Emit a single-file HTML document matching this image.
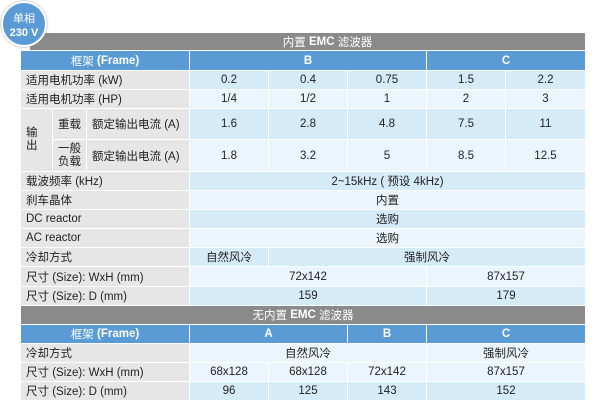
<!DOCTYPE html>
<html><head><meta charset="utf-8"><style>
body{margin:0;width:600px;height:406px;background:#fff;position:relative;overflow:hidden;font-family:"Liberation Sans","Noto Sans CJK SC",sans-serif;font-size:11.5px;color:#222}
.c{position:absolute;display:flex;align-items:center;justify-content:center;box-sizing:border-box;white-space:nowrap}
.l{justify-content:flex-start;padding-left:5px;background:#e6e6e6}
.g{background:#8a8a8a;color:#fff;font-size:11.5px}
.h{background:#5b9bd5;color:#fff;font-weight:bold}
.d{background:#d6ebf8}.e{background:#eaf5fd}
</style></head><body>
<div class="c g" style="left:30px;top:33px;width:555px;height:17px;padding-left:40px">内置 <b>&nbsp;EMC&nbsp;</b> 滤波器</div>
<div style="position:absolute;left:1px;top:1px;width:46px;height:46px;border-radius:50%;background:#5b9bd5;border:2px solid #fff;box-shadow:0 0 2px #999;color:#fff;text-align:center;font-size:11px;line-height:14px;padding-top:9px;box-sizing:border-box;font-weight:bold"><span style="font-weight:normal">单相</span><br>230 V</div>
<div id="t"></div>
<script>
var H=[];function c(x1,x2,y1,y2,cls,t){H.push('<div class="c '+cls+'" style="left:'+x1+'px;top:'+y1+'px;width:'+(x2-x1-1)+'px;height:'+(y2-y1-1)+'px">'+t+'</div>')}
var X=[190,269,348,427,506,586];
var F='<span style="font-weight:normal">框架</span>&nbsp;(Frame)';
c(21,190,51,71,'h',F);c(190,427,51,71,'h','B');c(427,586,51,71,'h','C');
function row(y1,y2,lab,vals,cls){c(21,190,y1,y2,'l',lab);for(var i=0;i<5;i++)c(X[i],X[i+1],y1,y2,cls,vals[i]);}
row(71,90,'适用电机功率 (kW)',['0.2','0.4','0.75','1.5','2.2'],'d');
row(90,109,'适用电机功率 (HP)',['1/4','1/2','1','2','3'],'e');
c(21,53,109,172,'l','<span style="line-height:13px">输<br>出</span>');
c(53,87,109,140,'l','重载');c(87,190,109,140,'l','额定输出电流 (A)');
c(53,87,140,172,'l','<span style="line-height:13px">一般<br>负载</span>');c(87,190,140,172,'l','额定输出电流 (A)');
for(var i=0;i<5;i++){c(X[i],X[i+1],109,140,'d',['1.6','2.8','4.8','7.5','11'][i]);c(X[i],X[i+1],140,172,'e',['1.8','3.2','5','8.5','12.5'][i]);}
c(21,190,172,191,'l','载波频率 (kHz)');c(190,586,172,191,'d','2~15kHz ( 预设 4kHz)');
c(21,190,191,210,'l','刹车晶体');c(190,586,191,210,'e','内置');
c(21,190,210,229,'l','DC reactor');c(190,586,210,229,'d','选购');
c(21,190,229,248,'l','AC reactor');c(190,586,229,248,'e','选购');
c(21,190,248,267,'l','冷却方式');c(190,269,248,267,'d','自然风冷');c(269,586,248,267,'d','强制风冷');
c(21,190,267,287,'l','尺寸 (Size): WxH (mm)');c(190,427,267,287,'e','72x142');c(427,586,267,287,'e','87x157');
c(21,190,287,306,'l','尺寸 (Size): D (mm)');c(190,427,287,306,'d','159');c(427,586,287,306,'d','179');
c(21,586,306,325,'g','无内置 <b>&nbsp;EMC&nbsp;</b> 滤波器');
c(21,190,325,344,'h',F);c(190,348,325,344,'h','A');c(348,427,325,344,'h','B');c(427,586,325,344,'h','C');
c(21,190,344,363,'l','冷却方式');c(190,427,344,363,'e','自然风冷');c(427,586,344,363,'e','强制风冷');
c(21,190,363,382,'l','尺寸 (Size): WxH (mm)');c(190,269,363,382,'e','68x128');c(269,348,363,382,'e','68x128');c(348,427,363,382,'e','72x142');c(427,586,363,382,'e','87x157');
c(21,190,382,401,'l','尺寸 (Size): D (mm)');c(190,269,382,401,'d','96');c(269,348,382,401,'d','125');c(348,427,382,401,'d','143');c(427,586,382,401,'d','152');
document.getElementById('t').innerHTML=H.join('');
</script>
</body></html>
